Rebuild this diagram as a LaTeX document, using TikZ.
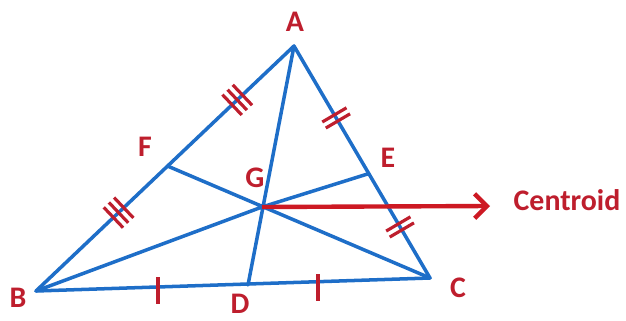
\documentclass[tikz,border=0pt]{standalone}
\usepackage{fontspec}
\setmainfont{Carlito}
\usepackage{tikz}
\usetikzlibrary{calc,arrows.meta}

\definecolor{medblue}{RGB}{30,110,200}
\definecolor{labred}{RGB}{190,30,45}
\definecolor{arrred}{RGB}{205,25,35}

\tikzset{
  side/.style = {medblue, line width = 2pt, line join = round, line cap = round},
  tickline/.style = {labred, line width = 1.8pt},
  lbl/.style = {labred, font = \fontsize{17}{20}\selectfont\bfseries, inner sep = 0pt}
}

\begin{document}
\begin{tikzpicture}[x = 0.02cm, y = -0.02cm]
                \useasboundingbox (0,0) rectangle (626,321);
                % vertices and feet of the medians
                \coordinate (A) at (294,46);
                \coordinate (B) at (36,291);
                \coordinate (C) at (430,278);
                \coordinate (D) at (248,285);
                \coordinate (E) at ($(A)!0.55!(C)$);
                \coordinate (F) at ($(A)!0.49!(B)$);
                \coordinate (G) at (262,207);
                \coordinate (cend) at (490,206);
                \draw [side] (A) -- (B) -- (C) -- cycle;
                \draw [side] (A) -- (D) (B) -- (G) -- (E) (C) -- (F);
                % equal parts
                \foreach \t in {0.20, 0.22, 0.24, 0.66, 0.68, 0.70}
                    \draw [tickline] ($(A)!\t!(B)!8pt!90:(B)$) -- ($(A)!\t!(B)!8pt!-90:(B)$);
                \foreach \t in {0.297, 0.323, 0.767, 0.793}
                    \draw [tickline] ($(A)!\t!(C)!8pt!90:(C)$) -- ($(A)!\t!(C)!8pt!-90:(C)$);
                \draw [tickline] (158,277) -- (158,304) (318,274) -- (318,301);
                \draw [arrred, line width = 2.5pt, -{Straight Barb[length = 7pt, width = 14pt, line width = 2.5pt]}] (G) -- (cend);
                \node [lbl] (lA) at (295,22) {A};
                \node [lbl] (lB) at (18,298) {B};
                \node [lbl] (lC) at (458,288) {C};
                \node [lbl] (lD) at (240,304) {D};
                \node [lbl] (lE) at (388,158) {E};
                \node [lbl] (lF) at (145,147) {F};
                \node [lbl] (lG) at (255,178) {G};
                \node [lbl] (lcen) at (567,200) {Centroid};
            \end{tikzpicture}
\end{document}
